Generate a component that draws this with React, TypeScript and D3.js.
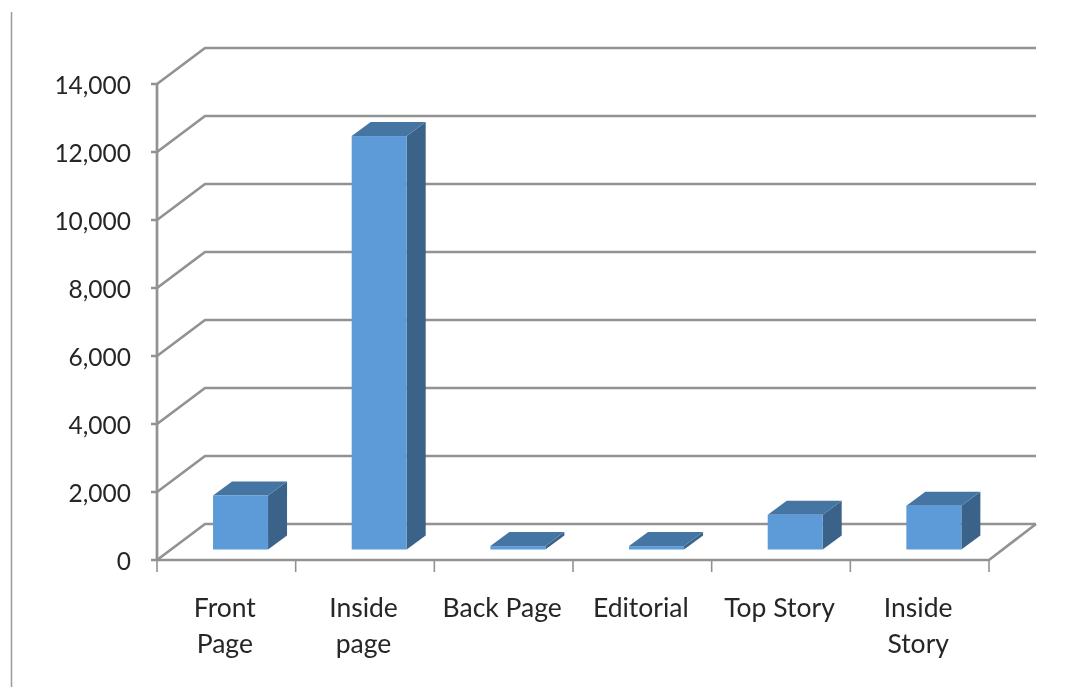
import React from 'react';
import * as d3 from 'd3';

const categories = ['Front Page', 'Inside page', 'Back Page', 'Editorial', 'Top Story', 'Inside Story'];
const categoryLines = [['Front', 'Page'], ['Inside', 'page'], ['Back Page'], ['Editorial'], ['Top Story'], ['Inside', 'Story']];
const values = [1590, 12160, 100, 100, 1020, 1290];
const yTicks = [0, 2000, 4000, 6000, 8000, 10000, 12000, 14000];

const WIDTH = 1076;
const HEIGHT = 687;
const GRID = '#929292';
const FONT = 'Lato, "Open Sans", sans-serif';

// the 3D look is just a fixed offset for the wall and for the bar depth
const wall = { dx: 48, dy: -36 };
const depth = { dx: 19, dy: -14 };
const baseLift = 10.5;
const barShift = 14.2;

const App: React.FC = () => {
  const x = d3.scaleBand<string>().domain(categories).range([157, 989]);
  const barW = 55;
  const y = d3.scaleLinear().domain([0, 14000]).range([560, 84]);
  const floorY = y(0);
  const tickX = [...categories.map(c => x(c) as number), 989];

  return (
    <svg
      width={WIDTH}
      height={HEIGHT}
      style={{ position: 'absolute', left: 0, top: 0, background: '#fff' }}
      fontFamily={FONT}
    >
      <defs>
        <filter id="soft" x="-5%" y="-5%" width="110%" height="110%">
          <feGaussianBlur stdDeviation="0.45" />
        </filter>
      </defs>
      <line x1={11.5} x2={11.5} y1={12} y2={HEIGHT} stroke="#9a9a9a" strokeWidth={1.5} />

      <g stroke={GRID} strokeWidth={2.7} fill="none" filter="url(#soft)">
        {yTicks.map(t => (
          <path
            key={t}
            d={`M151,${y(t)}H157L${157 + wall.dx},${y(t) + wall.dy}H1036`}
          />
        ))}
        <line x1={157} x2={157} y1={y(14000)} y2={floorY} />
        <path d={`M157,${floorY}H989L1036,${floorY + wall.dy}`} />
        {tickX.map(t => (
          <line key={t} x1={t} x2={t} y1={floorY} y2={floorY + 12} strokeWidth={1.6} />
        ))}
      </g>

      <g filter="url(#soft)">
        {categories.map((c, i) => {
          const bw = x.bandwidth();
          const x0 = (x(c) as number) + (bw - barW) / 2 + barShift;
          const x1 = x0 + barW;
          const y0 = floorY - baseLift;
          const y1 = y(values[i]) - baseLift;
          return (
            <g key={c}>
              <path
                d={`M${x1},${y1}l${depth.dx},${depth.dy}V${y0 + depth.dy}L${x1},${y0}Z`}
                fill="#3a6389"
              />
              <path
                d={`M${x0},${y1}l${depth.dx},${depth.dy}H${x1 + depth.dx}L${x1},${y1}Z`}
                fill="#4575a2"
              />
              <rect x={x0} y={y1} width={barW} height={y0 - y1} fill="#5b9bd7" />
            </g>
          );
        })}
      </g>

      <g fill="#262626" filter="url(#soft)">
        {yTicks.map(t => (
          <text key={t} x={131} y={y(t) + 9.5} textAnchor="end" fontSize={24.5}>
            {d3.format(',')(t)}
          </text>
        ))}
        {categories.map((c, i) => (
          <text key={c} textAnchor="middle" fontSize={26.5}>
            {categoryLines[i].map((line, j) => (
              <tspan key={line} x={(x(c) as number) + x.bandwidth() / 2 - 1.5} y={617 + j * 36}>
                {line}
              </tspan>
            ))}
          </text>
        ))}
      </g>
    </svg>
  );
};

export default App;
